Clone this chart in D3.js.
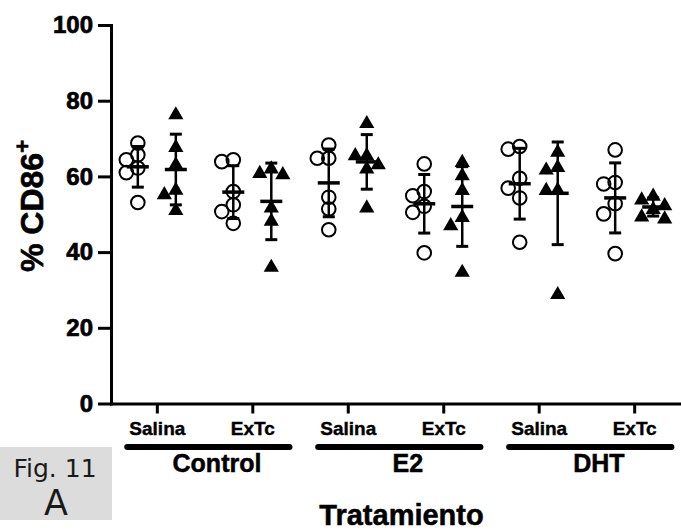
<!DOCTYPE html>
<head>
   <title>CD86 scatter</title>
   <meta charset="utf-8">
   <script src="https://d3js.org/d3.v7.min.js"></script>
   <style>
      body {
         margin: 0;
         background: #ffffff;
      }

      text {
         font-family: 'Liberation Sans', Arial, sans-serif;
         font-weight: bold;
         fill: #000000;
      }

      .axis path.domain {
         stroke: #000000;
         stroke-width: 3;
         stroke-linecap: square;
      }

      .axis .tick line {
         stroke: #000000;
         stroke-width: 3;
      }

      .yAxis .tick text {
         font-size: 24px;
         stroke: #000;
         stroke-width: 0.7px;
      }

      .xAxis .tick text {
         font-size: 19px;
         stroke: #000;
         stroke-width: 0.4px;
      }

      text.groupLabel {
         font-size: 25px;
         stroke: #000;
         stroke-width: 0.5px;
      }

      text.axisTitle {
         font-size: 29px;
         stroke: #000;
         stroke-width: 0.5px;
      }

      text.yTitle {
         font-size: 32px;
         stroke: #000;
         stroke-width: 0.6px;
      }

      text.fig {
         font-family: 'DejaVu Sans', sans-serif;
         font-weight: normal;
         fill: #1a1a1a;
      }
   </style>
</head>

<body>
   <script>
      const width = 681;
      const height = 531;

      const groups = ['Control', 'E2', 'DHT'];
      const treatments = ['Salina', 'ExTc'];
      const yTicks = [0, 20, 40, 60, 80, 100];

      // open circles, one array per tick: Control Salina, Control ExTc, E2 Salina, E2 ExTc, DHT Salina, DHT ExTc
      const circleValues = [
         [68.8, 65.7, 64.4, 62.2, 61.0, 53.1],
         [64.4, 63.9, 56.0, 52.5, 50.7, 47.6],
         [68.3, 64.8, 64.8, 54.5, 51.4, 45.9],
         [63.3, 56.0, 54.9, 52.1, 50.5, 39.8],
         [67.9, 67.2, 59.5, 56.9, 54.3, 42.6],
         [67.0, 58.4, 58.0, 52.8, 50.1, 39.6]
      ];

      // filled triangles, same order
      const triangleValues = [
         [76.5, 67.9, 63.3, 56.6, 55.4, 51.2],
         [62.2, 61.0, 60.7, 51.9, 48.4, 36.2],
         [74.2, 65.7, 65.7, 63.3, 62.2, 51.9],
         [63.9, 60.4, 56.5, 49.4, 47.2, 34.9],
         [66.6, 62.6, 61.9, 56.6, 56.5, 29.0],
         [55.0, 54.0, 52.5, 51.5, 49.5, 49.0]
      ];

      const svg = d3.select('body').append('svg')
         .attr('width', width)
         .attr('height', height);

      const categories = groups.flatMap(g => treatments.map(t => g + '|' + t));

      const x = d3.scalePoint()
         .domain(categories)
         .range([111, 680])
         .padding(0.48);

      const sub = d3.scalePoint()
         .domain(['circle', 'triangle'])
         .range([-19, 19]);

      const y = d3.scaleLinear()
         .domain([0, 100])
         .range([403.5, 25]);

      // axes
      svg.append('g')
         .attr('class', 'axis yAxis')
         .attr('transform', `translate(${x.range()[0]},0)`)
         .call(d3.axisLeft(y).tickValues(yTicks).tickSize(13).tickSizeOuter(0).tickPadding(5));

      svg.append('g')
         .attr('class', 'axis xAxis')
         .attr('transform', `translate(0,${y(0)})`)
         .call(d3.axisBottom(x).tickSize(10).tickSizeOuter(0).tickPadding(8)
            .tickFormat(d => d.split('|')[1]));

      // points, nudged sideways (max one column) when they crowd each other
      const colStep = 11.5;
      const minDist = 11;
      function swarm(values, cx) {
         const placed = [];
         const order = values.map((v, i) => i).sort((a, b) => values[b] - values[a]);
         order.forEach(i => {
            const py = y(values[i]);
            let best = null, bestD = -1;
            for (const c of [0, -1, 1]) {
               const px = cx + c * colStep;
               const d = d3.min(placed, p => Math.hypot(p.x - px, p.y - py)) ?? Infinity;
               if (d >= minDist) { best = px; break; }
               if (d > bestD) { bestD = d; best = px; }
            }
            placed.push({ x: best, y: py, v: values[i] });
         });
         return placed;
      }

      const series = [];
      categories.forEach((c, i) => {
         series.push({ kind: 'circle', cx: x(c) + sub('circle'), values: circleValues[i] });
         series.push({ kind: 'triangle', cx: x(c) + sub('triangle'), values: triangleValues[i] });
      });

      const tri = d3.symbol(d3.symbolTriangle, 100);

      series.forEach(s => {
         const pts = swarm(s.values, s.cx);
         if (s.kind === 'circle') {
            svg.append('g').selectAll('circle')
               .data(pts)
               .enter()
               .append('circle')
               .attr('cx', d => d.x)
               .attr('cy', d => d.y)
               .attr('r', 6.8)
               .style('fill', 'none')
               .style('stroke', '#000')
               .style('stroke-width', 2);
         } else {
            svg.append('g').selectAll('path')
               .data(pts)
               .enter()
               .append('path')
               .attr('transform', d => `translate(${d.x},${d.y + 1})`)
               .attr('d', tri)
               .style('fill', '#000');
         }
      });

      // mean and SD
      series.forEach(s => {
         const m = d3.mean(s.values);
         const sd = d3.deviation(s.values);
         const g = svg.append('g').style('stroke', '#000');
         g.append('line')
            .attr('x1', s.cx).attr('x2', s.cx)
            .attr('y1', y(m + sd)).attr('y2', y(m - sd))
            .style('stroke-width', 2.5);
         [m + sd, m - sd].forEach(v => {
            g.append('line')
               .attr('x1', s.cx - 6).attr('x2', s.cx + 6)
               .attr('y1', y(v)).attr('y2', y(v))
               .style('stroke-width', 3);
         });
         g.append('line')
            .attr('x1', s.cx - 11).attr('x2', s.cx + 11)
            .attr('y1', y(m)).attr('y2', y(m))
            .style('stroke-width', 3.5);
      });

      // group brackets under the tick labels
      const step = x.step();
      groups.forEach(g => {
         const a = x(g + '|' + treatments[0]);
         const b = x(g + '|' + treatments[1]);
         svg.append('line')
            .attr('x1', a - step * 0.31)
            .attr('x2', b + step * 0.39)
            .attr('y1', 447).attr('y2', 447)
            .style('stroke', '#000')
            .style('stroke-width', 6)
            .style('stroke-linecap', 'round');
         svg.append('text')
            .attr('class', 'groupLabel')
            .attr('x', (a + b) / 2 + step * 0.13)
            .attr('y', 472)
            .style('text-anchor', 'middle')
            .text(g);
      });

      svg.append('text')
         .attr('class', 'axisTitle')
         .attr('x', (x.range()[0] + x.range()[1]) / 2 + 6)
         .attr('y', 525)
         .style('text-anchor', 'middle')
         .text('Tratamiento');

      const yTitle = svg.append('text')
         .attr('class', 'yTitle')
         .attr('transform', 'translate(43,272) rotate(-90)');
      yTitle.append('tspan').text('% CD86');
      yTitle.append('tspan')
         .attr('dy', -13)
         .style('font-size', '22px')
         .text('+');

      // figure tag
      svg.append('rect')
         .attr('x', 0).attr('y', 447)
         .attr('width', 112).attr('height', 73)
         .style('fill', '#dcdcdc');
      svg.append('text')
         .attr('class', 'fig')
         .attr('x', 55).attr('y', 477)
         .style('font-size', '25px')
         .style('text-anchor', 'middle')
         .text('Fig. 11');
      svg.append('text')
         .attr('class', 'fig')
         .attr('x', 56).attr('y', 515)
         .style('font-size', '35px')
         .style('text-anchor', 'middle')
         .text('A');
   </script>
</body>
